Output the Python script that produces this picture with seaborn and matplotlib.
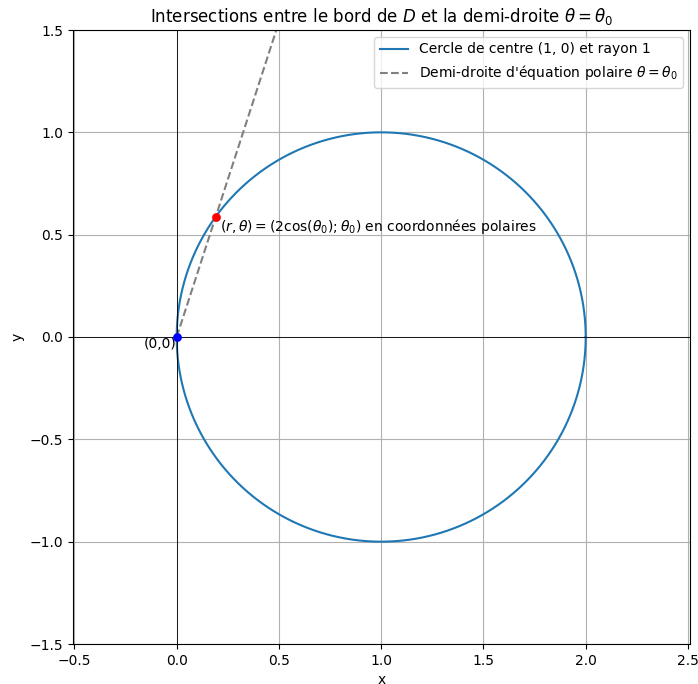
import numpy as np
import pandas as pd
import matplotlib
matplotlib.use("Agg")
import matplotlib.pyplot as plt
import seaborn as sns

# donnees
centre = (1.0, 0.0)
rayon = 1.0
theta0 = 2 * np.pi / 5  # ~72 degres
r_max = 2.0

# cercle de centre (1,0) et rayon 1
t = np.linspace(0, 2 * np.pi, 400)
cercle = pd.DataFrame({"x": centre[0] + rayon * np.cos(t),
                       "y": centre[1] + rayon * np.sin(t)})

# demi-droite theta = theta0
r = np.linspace(0, r_max, 50)
droite = pd.DataFrame({"x": r * np.cos(theta0), "y": r * np.sin(theta0)})

# point d'intersection
r0 = 2 * np.cos(theta0)
px, py = r0 * np.cos(theta0), r0 * np.sin(theta0)

fig = plt.figure(figsize=(6.98, 6.84), dpi=100)
ax = fig.add_axes([73 / 698, 1 - 644 / 684, 617 / 698, 614 / 684])

sns.lineplot(data=cercle, x="x", y="y", sort=False, estimator=None, ax=ax,
             color="#1f77b4", label="Cercle de centre (1, 0) et rayon 1")
sns.lineplot(data=droite, x="x", y="y", sort=False, estimator=None, ax=ax, color="gray",
             linestyle="--", label=r"Demi-droite d'équation polaire $\theta = \theta_0$")

ax.axhline(0, color="black", linewidth=0.6)
ax.axvline(0, color="black", linewidth=0.6)

sns.scatterplot(x=[0], y=[0], color="blue", s=40, linewidth=0, ax=ax, zorder=5, legend=False)
sns.scatterplot(x=[px], y=[py], color="red", s=40, linewidth=0, ax=ax, zorder=5, legend=False)

ax.text(0, 0, "(0,0)", ha="right", va="top", fontsize=10)
ax.text(px + 0.02, py, r"$(r, \theta) = (2\cos(\theta_0) ; \theta_0)$ en coordonnées polaires",
        ha="left", va="top", fontsize=10)

ax.set_xlim(-0.507, 2.51)
ax.set_ylim(-1.5, 1.5)
ax.set_xticks([-0.5, 0.0, 0.5, 1.0, 1.5, 2.0, 2.5])
ax.set_yticks([-1.5, -1.0, -0.5, 0.0, 0.5, 1.0, 1.5])
ax.grid(True)
ax.set_xlabel("x")
ax.set_ylabel("y")
ax.set_title(r"Intersections entre le bord de $D$ et la demi-droite $\theta = \theta_0$")
ax.legend(loc="upper right")

fig.savefig("out.png", dpi=100)
